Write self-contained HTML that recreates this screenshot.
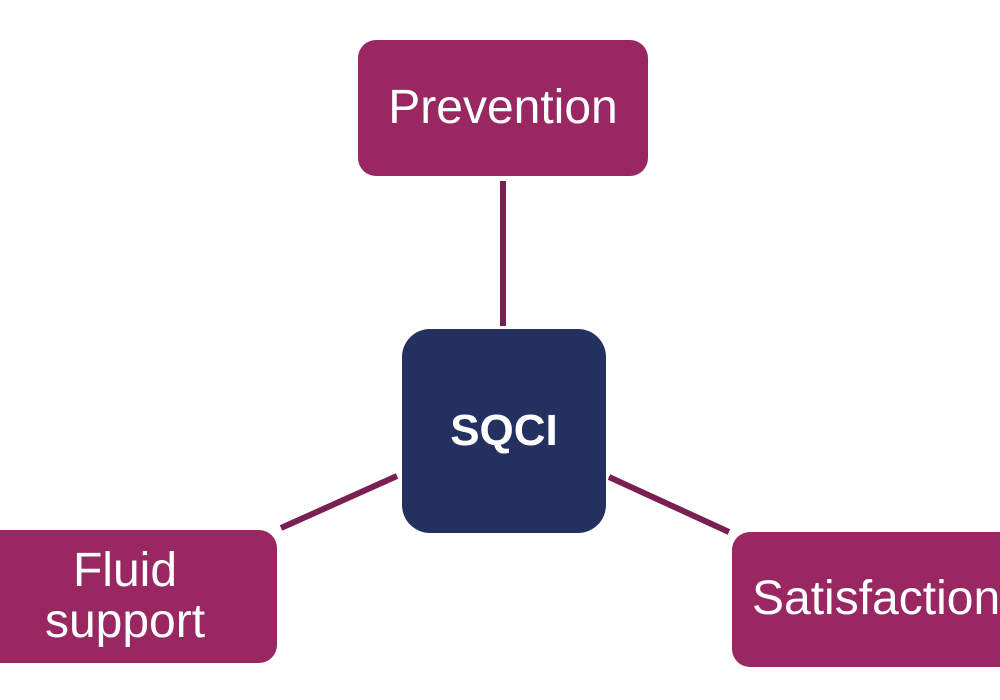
<!DOCTYPE html>
<html><head><meta charset="utf-8"><style>
html,body{margin:0;padding:0;width:1000px;height:700px;overflow:hidden;background:#fff;}
.b{position:absolute;background:#982762;color:#fff;font-family:"Liberation Sans",sans-serif;font-size:48px;display:flex;align-items:center;justify-content:center;text-align:center;border-radius:18px;line-height:1.05;}
</style></head><body>
<svg width="1000" height="700" style="position:absolute;left:0;top:0">
<g stroke="#7a1f52" stroke-width="6">
<line x1="503" y1="181" x2="503" y2="326"/>
<line x1="397" y1="476" x2="281" y2="528"/>
<line x1="609" y1="477" x2="729" y2="532"/>
</g>
</svg>
<div class="b" style="left:358px;top:40px;width:290px;height:136px;">Prevention</div>
<div class="b" style="left:402px;top:329px;width:204px;height:204px;background:#233060;border-radius:28px;font-weight:bold;font-size:44px;">SQCI</div>
<div class="b" style="left:-27px;top:530px;width:304px;height:133px;">Fluid<br>support</div>
<div class="b" style="left:732px;top:532px;width:300px;height:135px;justify-content:flex-start;padding-left:20px;box-sizing:border-box;white-space:nowrap;">Satisfaction</div>
</body></html>
